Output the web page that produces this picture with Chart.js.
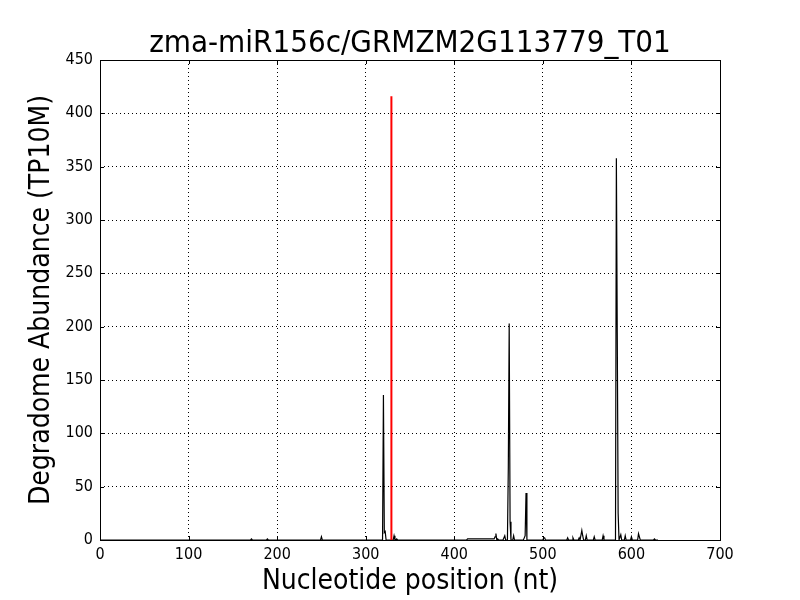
<!DOCTYPE html>
<html>
<head>
<meta charset="utf-8">
<script src="https://cdn.jsdelivr.net/npm/chart.js@4/dist/chart.umd.min.js"></script>
<style>
  html, body { margin: 0; padding: 0; background: #fff; }
</style>
</head>
<body>
<canvas id="plot" width="800" height="600"></canvas>
<script>
const TITLE = 'zma-miR156c/GRMZM2G113779_T01'
const X_LABEL = 'Nucleotide position (nt)'
const Y_LABEL = 'Degradome Abundance (TP10M)'

// degradome peaks (position in nt, abundance in TP10M)
const peakPositions = [171, 189, 250, 320, 321, 322, 332, 335,
    415, 416, 417, 418, 419, 420, 421, 422, 423, 424, 425, 426, 427, 428, 429, 430,
    431, 432, 433, 434, 435, 436, 437, 438, 439, 440, 441, 442, 443, 444, 445,
    446, 447, 449, 457, 461, 462, 463, 467, 479, 480, 481, 501, 502,
    528, 534, 541, 544, 545, 549, 558, 568, 583, 584, 585, 588, 593, 600, 608, 609, 626]
const peakValues = [1, 1, 3, 136, 7, 8, 4, 1,
    1, 1, 1, 1, 1, 1, 1, 1, 1, 1, 1, 1, 1, 1, 1, 1,
    1, 1, 1, 1, 1, 1, 1, 1, 1, 1, 1, 1, 1, 1, 1,
    3, 6, 1, 4, 68, 203, 17, 4, 2, 4, 44, 2, 2,
    2, 2, 2, 9, 4, 4, 3, 4, 358, 194, 25, 5, 4, 3, 6, 3, 1]
const transcriptLength = 630

// miRNA cleavage site (red line)
const cleavagePosition = 329
const cleavageValue = 416

const xTicks = [0, 100, 200, 300, 400, 500, 600, 700]
const yTicks = [0, 50, 100, 150, 200, 250, 300, 350, 400, 450]

const FONT = "'Liberation Sans Narrow', 'DejaVu Sans Condensed', sans-serif"

function buildProfile() {
    const values = new Array(transcriptLength + 1).fill(0)
    peakPositions.forEach((p, i) => { values[p] = peakValues[i] })
    return values.map((v, i) => ({x: i, y: v}))
}

// matplotlib style frame with inward ticks on all four sides
const framePlugin = {
    id: 'frame',
    afterDatasetsDraw(chart) {
        const {ctx, chartArea: a, scales} = chart
        ctx.save()
        ctx.strokeStyle = '#000'
        ctx.lineWidth = 1
        ctx.beginPath()
        xTicks.forEach(t => {
            const x = Math.round(scales.x.getPixelForValue(t)) + 0.5
            ctx.moveTo(x, a.bottom); ctx.lineTo(x, a.bottom - 4)
            ctx.moveTo(x, a.top); ctx.lineTo(x, a.top + 4)
        })
        yTicks.forEach(t => {
            const y = Math.round(scales.y.getPixelForValue(t)) + 0.5
            ctx.moveTo(a.left, y); ctx.lineTo(a.left + 4, y)
            ctx.moveTo(a.right, y); ctx.lineTo(a.right - 4, y)
        })
        ctx.stroke()
        ctx.strokeRect(a.left + 0.5, a.top + 0.5, a.right - a.left, a.bottom - a.top)
        ctx.restore()
    }
}

const ctx = document.getElementById('plot').getContext('2d')
new Chart(ctx, {
    type: 'line',
    data: {
        datasets: [{
            label: 'degradome',
            data: buildProfile(),
            borderColor: '#000',
            borderWidth: 1.2,
            pointRadius: 0,
            tension: 0,
            order: 2
        }, {
            label: 'cleavage site',
            data: [{x: cleavagePosition, y: 0}, {x: cleavagePosition, y: cleavageValue}],
            borderColor: '#ff0000',
            borderWidth: 2,
            pointRadius: 0,
            order: 1
        }]
    },
    options: {
        responsive: false,
        animation: false,
        layout: { padding: { right: 80 } },
        plugins: {
            legend: { display: false },
            tooltip: { enabled: false },
            title: {
                display: true,
                fullSize: false,
                text: TITLE,
                color: '#000',
                font: { family: FONT, size: 31, weight: 'normal', lineHeight: 1 },
                padding: { top: 28, bottom: 1 }
            }
        },
        scales: {
            x: {
                type: 'linear',
                min: 0,
                max: 700,
                afterFit: (s) => { s.height = 60 },
                afterBuildTicks: (s) => { s.ticks = xTicks.map(v => ({value: v})) },
                grid: { color: '#000', lineWidth: 1, drawTicks: false },
                border: { display: false, dash: [1, 3] },
                ticks: { color: '#000', padding: 5, maxRotation: 0, font: { family: FONT, size: 16 } },
                title: {
                    display: true,
                    text: X_LABEL,
                    color: '#000',
                    font: { family: FONT, size: 28 },
                    padding: { top: 0, bottom: 1 }
                }
            },
            y: {
                min: 0,
                max: 450,
                afterFit: (s) => { s.width = 100 },
                afterBuildTicks: (s) => { s.ticks = yTicks.map(v => ({value: v})) },
                grid: { color: '#000', lineWidth: 1, drawTicks: false },
                border: { display: false, dash: [1, 3] },
                ticks: { color: '#000', padding: 7, font: { family: FONT, size: 16 } },
                title: {
                    display: true,
                    text: Y_LABEL,
                    color: '#000',
                    font: { family: FONT, size: 28 },
                    padding: { top: 25, bottom: 0 }
                }
            }
        }
    },
    plugins: [framePlugin]
})
</script>
</body>
</html>
